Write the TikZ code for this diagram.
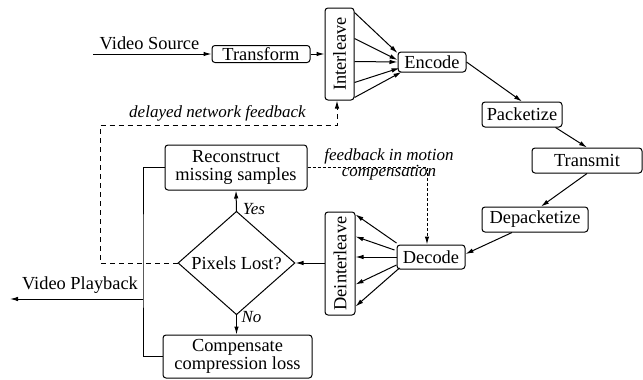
\documentclass[tikz,border=0pt]{standalone}
\usepackage{fontspec}
\setmainfont{Liberation Serif}
\usetikzlibrary{shapes.geometric,arrows.meta,calc}
\tikzset{
  box/.style={draw, rounded corners=3pt, inner sep=0pt, line width=1pt, align=center},
  arr/.style={line width=1pt, -{Latex[length=8pt,width=4.5pt]}},
  ln/.style={line width=1pt},
  dsh/.style={line width=1pt, dash pattern=on 5pt off 4pt},
  ddsh/.style={line width=1pt, dash pattern=on 3pt off 2pt},
  lbl/.style={font=\fontsize{17}{14.5}\selectfont\itshape, inner sep=0pt, align=center},
}
\begin{document}
\begin{tikzpicture}[x=1pt,y=-1pt, font=\fontsize{18.4}{18.5}\selectfont]
\useasboundingbox (0,0) rectangle (643,380);
% nodes
\node[box, minimum width=98, minimum height=17] (transform) at (261,54) {Transform};
\node[box, minimum width=29, minimum height=92] (interleave) at (339.5,54) {\rotatebox{90}{Interleave}};
\node[box, minimum width=68, minimum height=20] (encode) at (432,62) {Encode};
\node[box, minimum width=80, minimum height=25] (packetize) at (522,114.5) {Packetize};
\node[box, minimum width=110, minimum height=25] (transmit) at (587,160.5) {Transmit};
\node[box, minimum width=106, minimum height=25] (depacketize) at (535,219.5) {Depacketize};
\node[box, minimum width=68, minimum height=24] (decode) at (431,257) {Decode};
\node[box, minimum width=30, minimum height=103] (deinterleave) at (340,263.5) {\rotatebox{90}{Deinterleave}};
\node[draw, diamond, line width=1pt, inner sep=0pt, minimum width=117, minimum height=80] (pixels) at (236.5,263) {Pixels Lost?};
\node[box, minimum width=142, minimum height=45] (reconstruct) at (236,167.5) {Reconstruct\\missing samples};
\node[box, minimum width=149, minimum height=43] (compensate) at (237.5,356.5) {Compensate\\compression loss};
% text labels
\node[inner sep=0pt] (vstext) at (149.5,43) {Video Source};
\node[inner sep=0pt] (vptext) at (80,285) {Video Playback};
\node[lbl] (dnf) at (217.5,113) {delayed network feedback};
\node[lbl] (fmc) at (389,164) {feedback in motion\\compensation};
\node[lbl] (yes) at (254,209) {Yes};
\node[lbl] (no) at (251.5,317) {No};
% coordinates
\coordinate (vs) at (93,54);
\coordinate (dl) at (100,125);
\coordinate (ibx) at (337,0);
\coordinate (fbx) at (427,0);
\coordinate (lx) at (143,260);
\coordinate (vp1) at (143,299);
\coordinate (vp2) at (10,299);
% connectors
\draw[arr] (vs) -- (transform.west);
\draw[arr] (transform.east) -- (transform.east -| interleave.west);
\draw[arr] ($(interleave.north east)+(0,5)$) -- ($(encode.west)+(0,-9)$);
\draw[arr] ($(interleave.north east)+(0,31)$) -- ($(encode.west)+(0,-2)$);
\draw[arr] ($(interleave.north east)+(0,54)$) -- (encode.west);
\draw[arr] ($(interleave.north east)+(0,75)$) -- ($(encode.west)+(2,6)$);
\draw[arr] ($(interleave.north east)+(0,90)$) -- ($(encode.west)+(4,10)$);
\draw[arr] (encode.east) -- (packetize.north);
\draw[arr] ($(packetize.south east)+(-7,0)$) -- (transmit.north);
\draw[arr] (transmit.south) -- ($(depacketize.north)+(6,0)$);
\draw[arr] ($(depacketize.south)+(-23,0)$) -- ($(decode.east)+(0,-3)$);
\draw[arr] ($(decode.west)+(0,-14)$) -- ($(deinterleave.north east)+(0,3)$);
\draw[arr] ($(decode.west)+(-2,-7)$) -- ($(deinterleave.north east)+(0,25)$);
\draw[arr] (decode.west) -- (decode.west -| deinterleave.east);
\draw[arr] ($(decode.west)+(0,8)$) -- ($(deinterleave.north east)+(0,73)$);
\draw[arr] ($(decode.west)+(3,11)$) -- ($(deinterleave.north east)+(0,95)$);
\draw[arr] (deinterleave.west |- pixels.east) -- (pixels.east);
\draw[arr] (pixels.north) -- (reconstruct.south);
\draw[arr] (pixels.south) -- (pixels.south |- compensate.north);
\draw[ln] (reconstruct.west) -| (lx) |- (compensate.west);
\draw[arr] (vp1) -- (vp2);
\draw[dsh, -{Latex[length=8pt,width=4.5pt]}] (pixels.west) -| (dl) -| (interleave.south -| ibx);
\draw[ddsh, -{Latex[length=8pt,width=4.5pt]}] (reconstruct.east) -| (decode.north -| fbx);
\end{tikzpicture}
\end{document}
